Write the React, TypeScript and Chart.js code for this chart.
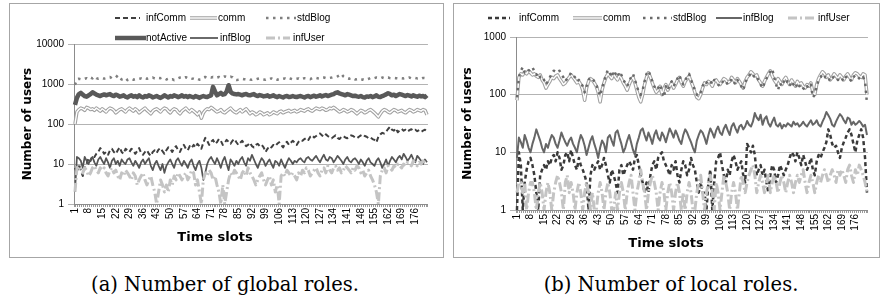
import React, { useEffect, useRef } from "react";
import { Chart, registerables } from "chart.js";
Chart.register(...registerables);

// ---------- categories & tick labels ----------
const timeSlots: string[] = Array.from({ length: 182 }, (_, i) => String(i + 1));
const shownTicks = ["1","8","15","22","29","36","43","50","57","64","71","78","85","92","99","106","113","120","127","134","141","148","155","162","169","176"];
const yTicksA = [1, 10, 100, 1000, 10000];
const yTicksB = [1, 10, 100, 1000];

// ---------- (a) global roles ----------
const globalInfComm = [
  8,6,10,7,5,8,10,14,12,16,15,18,20,25,
  22,18,20,17,22,24,20,18,22,26,20,18,24,22,
  20,24,22,18,21,25,19,17,20,22,18,16,20,22,
  19,23,25,21,18,22,26,24,20,25,28,22,20,26,
  30,24,22,28,25,30,26,32,28,24,34,45,38,30,
  36,40,32,35,42,38,30,34,40,36,32,38,42,35,
  30,34,38,32,28,30,34,28,26,30,32,28,30,26,
  20,24,28,26,30,28,32,35,30,26,32,36,30,34,
  38,34,30,36,40,38,42,45,40,48,52,46,50,55,
  58,52,48,55,50,46,44,48,52,45,42,48,50,46,
  44,48,52,50,46,44,48,52,55,50,48,44,46,42,
  40,35,48,55,60,58,65,75,85,72,68,78,62,70,
  75,68,72,65,70,74,68,72,66,70,64,68,72,65
];
const globalComm = [
  100,200,230,250,240,220,260,250,230,240,220,250,230,210,
  240,220,200,230,250,240,220,190,210,230,240,220,200,230,
  250,230,210,240,220,190,210,230,250,220,200,180,210,230,
  240,220,200,230,250,240,210,190,220,240,230,200,180,210,
  230,250,220,200,230,210,190,170,200,140,190,220,240,230,
  260,240,220,200,210,230,200,190,210,230,250,220,200,190,
  210,230,200,220,240,210,180,200,190,170,180,200,190,170,
  180,190,170,180,200,190,180,200,210,190,200,210,220,200,
  210,220,200,210,230,220,210,230,240,220,210,230,250,240,
  230,250,240,220,230,250,240,260,240,220,200,210,230,220,
  200,210,230,220,200,180,200,220,210,190,200,220,230,210,
  190,170,150,180,210,230,220,200,190,210,230,220,200,210,
  220,200,190,210,230,220,200,210,230,220,210,230,220,170
];
const globalStdBlog = [
  950,1300,1350,1320,1380,1350,1400,1330,1450,1380,1550,1400,1350,1380,
  1420,1360,1400,1450,1500,1380,1420,1450,1650,1400,1300,1350,1420,1250,
  1300,1350,1280,1320,1300,1350,1380,1320,1400,1350,1420,1400,1450,1380,
  1350,1420,1400,1450,1380,1300,1350,1280,1320,1250,1300,1380,1450,1500,
  1420,1480,1400,1450,1380,1350,1300,1350,1280,1300,1450,1500,1420,1480,
  1450,1500,1420,1450,1500,1420,1480,1550,1500,1450,1520,1480,1300,1250,
  1280,1300,1350,1320,1300,1350,1300,1280,1320,1300,1350,1380,1320,1300,
  1280,1350,1320,1380,1300,1350,1280,1320,1300,1350,1380,1320,1400,1350,
  1300,1320,1350,1380,1300,1350,1400,1380,1350,1320,1400,1450,1420,1380,
  1350,1420,1450,1400,1380,1420,1450,1500,1480,1550,1650,1800,1550,1450,
  1380,1350,1420,1380,1300,1320,1350,1280,1300,1250,1300,1350,1420,1450,
  1400,1450,1420,1380,1450,1400,1420,1450,1400,1380,1420,1400,1380,1420,
  1400,1380,1420,1400,1450,1380,1400,1420,1380,1400,1350,1420,1400,1380
];
const globalNotActive = [
  300,450,560,600,540,500,480,520,560,620,580,540,520,500,
  530,550,520,540,560,520,500,540,520,480,500,520,480,460,
  500,520,480,500,470,520,480,460,500,480,520,500,460,480,
  500,470,450,480,520,490,460,500,480,520,500,470,490,520,
  480,500,470,500,480,460,500,480,450,480,500,480,470,500,
  520,850,650,520,560,600,540,560,650,930,640,580,560,550,
  560,540,520,550,560,530,520,540,560,520,500,530,510,490,
  500,520,480,500,520,490,470,500,480,460,490,500,470,480,
  500,480,470,490,500,480,460,490,500,470,490,510,480,500,
  520,490,510,530,500,520,540,560,600,620,580,560,540,520,
  560,540,520,500,510,490,480,500,470,460,490,480,500,470,
  490,520,480,470,500,520,550,590,560,520,540,500,530,560,
  540,520,500,530,510,490,520,500,480,510,490,500,470,520
];
const globalInfBlog = [
  2,15,14,12,8,15,12,10,13,15,11,9,13,15,
  12,10,14,11,8,12,14,10,12,9,13,11,10,13,
  14,11,9,12,10,8,11,13,10,12,14,9,7,10,
  12,9,7,10,6,9,11,13,10,8,12,14,11,9,
  12,10,8,11,13,9,7,10,12,8,4,6,10,13,
  15,12,10,14,11,8,12,15,10,7,13,11,9,12,
  10,13,15,11,9,14,12,17,13,10,8,11,14,12,
  9,11,13,10,8,12,11,9,13,10,8,11,14,12,
  10,12,11,13,14,12,11,14,15,13,12,14,16,13,
  11,14,17,13,12,15,14,11,13,16,14,12,10,13,
  15,12,11,13,14,12,10,13,11,9,12,14,11,10,
  9,12,14,11,8,10,13,9,12,15,13,11,14,16,
  13,18,15,12,14,17,13,11,16,14,12,10,13,11
];
const globalInfUser = [
  2,8,9,7,6,8,7,5,6,8,9,7,6,8,
  7,8,6,5,7,8,6,7,5,4,6,5,7,6,
  5,4,6,5,3,4,5,6,4,3,4,5,3,2,
  1,2,4,3,2,3,2,4,3,5,4,6,5,4,
  5,6,4,5,7,6,3,4,2,1,4,6,5,7,
  6,4,5,3,2,1,3,1,2,4,6,5,7,6,
  5,4,6,7,5,8,6,5,4,3,4,5,6,4,
  3,4,5,3,4,2,3,1,5,6,5,7,6,5,
  6,5,4,6,5,7,6,8,7,5,6,7,8,6,
  5,7,8,6,9,7,6,8,9,7,8,6,7,9,
  8,7,6,8,7,9,8,6,7,5,6,7,5,4,
  3,2,1,5,7,8,6,9,8,7,9,8,10,9,
  8,10,9,11,10,9,12,10,9,11,10,12,11,10
];

// ---------- (b) local roles ----------
const localInfComm = [
  1,10,6,1,3,5,7,8,6,4,2,1,4,5,
  6,5,7,6,8,9,7,10,8,5,6,9,10,7,
  11,8,6,5,8,6,5,4,3,1,4,6,5,6,
  7,5,6,8,6,4,3,5,4,3,2,5,6,4,
  5,6,7,6,5,8,9,6,4,3,2,3,2,4,
  6,7,5,8,9,10,7,6,5,4,6,5,7,4,
  3,5,7,6,4,5,8,6,5,3,2,3,2,2,
  1,3,5,1,3,7,8,10,6,4,3,5,4,7,
  9,7,5,6,7,4,3,14,12,10,13,9,4,5,
  6,4,5,3,2,4,6,5,3,4,6,5,4,5,
  6,8,10,9,7,10,8,6,9,7,5,6,8,5,
  4,7,9,8,10,12,15,25,20,14,12,13,10,8,
  12,15,18,22,25,20,14,10,16,20,25,18,8,2
];
const localComm = [
  80,200,230,220,250,230,260,240,220,230,210,200,220,180,
  160,130,150,170,200,190,210,220,190,170,150,160,180,200,
  220,200,180,160,170,150,120,80,130,170,190,180,160,140,
  110,75,120,160,200,230,210,190,230,200,180,220,190,160,
  140,120,150,180,200,160,120,90,75,100,150,200,240,200,
  160,130,110,120,140,100,130,150,120,140,160,130,150,180,
  200,160,140,170,190,210,170,140,110,90,85,100,130,160,
  150,170,160,140,170,180,160,150,170,190,180,160,170,200,
  180,160,190,170,150,130,170,200,220,250,230,210,220,180,
  160,140,170,200,230,260,210,180,160,190,170,150,180,200,
  170,150,180,160,140,170,150,160,140,130,150,140,160,110,
  100,150,190,220,250,230,200,220,180,200,230,210,190,220,
  200,180,210,230,200,180,220,240,230,210,200,230,220,100
];
const localStdBlog = [
  90,200,260,300,240,230,260,280,300,250,220,240,200,210,
  180,150,170,200,230,260,250,240,260,220,200,170,190,210,
  240,220,200,170,180,160,140,110,140,180,200,190,170,150,
  120,95,130,170,220,270,240,200,260,230,200,250,220,180,
  160,140,170,200,230,180,140,110,100,120,170,230,260,210,
  170,140,120,130,150,110,90,140,120,150,170,140,160,190,
  220,170,150,180,200,230,180,150,120,100,95,110,140,170,
  160,180,170,150,180,170,150,140,160,180,170,150,160,190,
  170,150,180,160,140,120,160,190,210,240,220,200,210,170,
  150,130,160,190,220,250,280,200,150,120,160,140,170,190,
  160,140,170,150,130,160,140,150,130,120,140,130,150,90,
  100,140,180,200,230,210,190,200,170,190,210,200,180,200,
  190,170,200,210,190,170,200,220,210,190,180,200,170,70
];
const localInfBlog = [
  8,18,15,12,20,16,12,10,14,18,25,20,16,12,
  10,14,12,16,20,18,14,12,16,22,18,15,13,16,
  18,14,12,10,15,20,17,13,9,12,16,19,14,11,
  8,12,16,14,10,18,20,16,13,22,24,18,14,10,
  12,16,20,15,11,9,14,18,24,26,20,16,22,18,
  14,20,24,18,16,22,19,15,20,26,22,18,24,20,
  16,14,20,25,22,18,15,12,10,16,20,24,22,18,
  14,20,26,22,18,24,28,22,20,26,30,24,20,28,
  32,26,22,28,30,25,28,35,30,28,34,48,40,36,
  45,30,38,42,32,28,34,40,30,28,32,26,30,28,
  32,30,28,34,30,32,28,30,34,30,28,32,36,30,
  32,36,30,28,34,40,50,44,38,30,28,34,40,46,
  42,36,32,40,38,30,34,30,32,35,32,28,30,20
];
const localInfUser = [
  2,3,3,2,3,1,2,3,3,2,1,2,3,2,
  1,2,3,2,1,2,3,4,3,2,1,3,4,2,
  3,2,1,2,3,2,1,2,3,2,1,2,1,1,
  2,3,2,1,2,3,2,1,1,2,1,2,3,2,
  1,2,3,4,2,1,2,3,5,3,2,1,2,3,
  4,3,2,1,2,3,2,1,2,3,2,1,2,3,
  2,1,2,1,2,3,2,1,1,2,3,4,2,1,
  2,3,4,2,1,3,2,1,2,4,3,2,1,2,
  3,2,1,2,4,3,2,3,4,5,6,4,2,3,
  4,3,2,3,4,2,3,4,3,2,3,4,3,2,
  3,4,3,2,3,4,3,4,5,3,2,3,4,3,
  2,3,4,3,4,5,4,3,4,5,4,3,5,4,
  5,4,3,5,6,4,3,5,4,6,5,4,3,2
];

// ---------- styles ----------
type St = { color: string; width: number; dash?: number[]; inner?: string; innerWidth?: number; dot?: boolean };
const ST: Record<string, St> = {
  infCommA: { color: "#404040", width: 2, dash: [5, 3] },
  infCommB: { color: "#3a3a3a", width: 2.5, dash: [4, 3] },
  comm: { color: "#a0a0a0", width: 3.5, inner: "#ffffff", innerWidth: 1.4 },
  stdBlogA: { color: "#7f7f7f", width: 2.5, dash: [2.5, 4.5] },
  stdBlogB: { color: "#6a6a6a", width: 2.5, dash: [2.5, 4.5] },
  notActive: { color: "#595959", width: 4.5 },
  infBlogA: { color: "#555555", width: 1.75 },
  infBlogB: { color: "#666666", width: 2 },
  infUser: { color: "#c4c4c4", width: 3, dash: [9, 3, 2, 3] },
};

function ds(data: number[], st: St, color?: string, width?: number) {
  return {
    data,
    borderColor: color || st.color,
    borderWidth: width || st.width,
    borderDash: color ? [] : st.dash || [],
    pointRadius: 0,
    pointHoverRadius: 0,
    fill: false,
    tension: 0,
    borderJoinStyle: "round" as const,
  };
}

type LegendItem = { label: string; st: St; x0: number; x1: number; tx: number; y: number };

function drawSample(ctx: CanvasRenderingContext2D, it: LegendItem) {
  ctx.save();
  ctx.lineCap = "butt";
  ctx.beginPath();
  ctx.setLineDash(it.st.dash || []);
  ctx.strokeStyle = it.st.color;
  ctx.lineWidth = it.st.width;
  ctx.moveTo(it.x0, it.y);
  ctx.lineTo(it.x1, it.y);
  ctx.stroke();
  if (it.st.inner) {
    ctx.beginPath();
    ctx.setLineDash([]);
    ctx.strokeStyle = it.st.inner;
    ctx.lineWidth = it.st.innerWidth || 1;
    ctx.moveTo(it.x0, it.y);
    ctx.lineTo(it.x1, it.y);
    ctx.stroke();
  }
  ctx.setLineDash([]);
  ctx.fillStyle = "#000";
  ctx.font = '10px "Liberation Sans", Arial, sans-serif';
  ctx.textAlign = "left";
  ctx.textBaseline = "middle";
  ctx.fillText(it.label, it.tx, it.y + 0.5);
  ctx.restore();
}

type PanelProps = {
  left: number;
  datasets: any[];
  yTicks: number[];
  yMax: number;
  padding: { top: number; right: number };
  yWidth: number;
  xHeight: number;
  legend: LegendItem[];
  xTitle: { x: number; y: number };
};

function Panel(p: PanelProps) {
  const ref = useRef<HTMLCanvasElement | null>(null);
  useEffect(() => {
    if (!ref.current) return;
    const extras = {
      id: "extras",
      afterDraw(chart: any) {
        const ctx = chart.ctx as CanvasRenderingContext2D;
        p.legend.forEach((it) => drawSample(ctx, it));
        ctx.save();
        ctx.fillStyle = "#000";
        ctx.font = 'bold 13px "DejaVu Sans", Verdana, sans-serif';
        ctx.textAlign = "center";
        ctx.textBaseline = "middle";
        ctx.fillText("Time slots", p.xTitle.x, p.xTitle.y);
        ctx.restore();
      },
    };
    const chart = new Chart(ref.current, {
      type: "line",
      data: { labels: timeSlots, datasets: p.datasets },
      plugins: [extras],
      options: {
        responsive: false,
        animation: false,
        events: [],
        layout: { padding: { left: 0, right: p.padding.right, top: p.padding.top, bottom: 0 } },
        plugins: { legend: { display: false }, tooltip: { enabled: false }, title: { display: false } },
        scales: {
          x: {
            type: "category",
            offset: true,
            grid: { display: true, drawOnChartArea: false, drawTicks: true, tickLength: 3, color: "#9a9a9a", offset: true },
            border: { display: true, color: "#8c8c8c" },
            ticks: {
              autoSkip: false,
              maxRotation: 90,
              minRotation: 90,
              padding: 1,
              color: "#000",
              font: { family: '"Liberation Sans", Arial, sans-serif', size: 10 },
              callback: (_v: any, i: number) => (shownTicks.includes(timeSlots[i]) ? timeSlots[i] : ""),
            },
            afterFit: (s: any) => {
              s.height = p.xHeight;
            },
          },
          y: {
            type: "logarithmic",
            min: 1,
            max: p.yMax,
            afterBuildTicks: (s: any) => {
              s.ticks = p.yTicks.map((v) => ({ value: v }));
            },
            grid: { color: "#b3b3b3", tickLength: 6, drawTicks: true },
            border: { display: true, color: "#8c8c8c" },
            ticks: {
              padding: 4,
              color: "#000",
              font: { family: '"Liberation Sans", Arial, sans-serif', size: 10 },
              callback: (v: any) => String(v),
            },
            title: {
              display: true,
              text: "Number of users",
              color: "#000",
              font: { family: '"DejaVu Sans", Verdana, sans-serif', size: 12, weight: "bold" },
              padding: { top: 21, bottom: 0 },
            },
            afterFit: (s: any) => {
              s.width = p.yWidth;
            },
          },
        },
      } as any,
    });
    return () => chart.destroy();
  }, []);
  return (
    <canvas
      ref={ref}
      width={440}
      height={260}
      style={{ position: "absolute", left: p.left, top: 0, width: 440, height: 260 }}
    />
  );
}

export default function App() {
  const dsA = [
    ds(globalInfUser, ST.infUser),
    ds(globalInfBlog, ST.infBlogA),
    ds(globalNotActive, ST.notActive),
    ds(globalStdBlog, ST.stdBlogA),
    ds(globalComm, ST.comm, "#ffffff", 1.4),
    ds(globalComm, ST.comm),
    ds(globalInfComm, ST.infCommA),
  ];
  const dsB = [
    ds(localInfUser, ST.infUser),
    ds(localInfBlog, ST.infBlogB),
    ds(localStdBlog, ST.stdBlogB),
    ds(localComm, ST.comm, "#ffffff", 1.4),
    ds(localComm, ST.comm),
    ds(localInfComm, ST.infCommB),
  ];
  const legendA: LegendItem[] = [
    { label: "infComm", st: ST.infCommA, x0: 115, x1: 140, tx: 146, y: 18 },
    { label: "comm", st: ST.comm, x0: 190, x1: 217, tx: 218, y: 18 },
    { label: "stdBlog", st: ST.stdBlogA, x0: 266, x1: 296, tx: 297, y: 18 },
    { label: "notActive", st: ST.notActive, x0: 115, x1: 146, tx: 146, y: 38 },
    { label: "infBlog", st: ST.infBlogA, x0: 190, x1: 218, tx: 220, y: 38 },
    { label: "infUser", st: ST.infUser, x0: 266, x1: 290, tx: 293, y: 38 },
  ];
  const legendB: LegendItem[] = [
    { label: "infComm", st: ST.infCommB, x0: 48, x1: 70, tx: 79, y: 18 },
    { label: "comm", st: ST.comm, x0: 133, x1: 162, tx: 163, y: 18 },
    { label: "stdBlog", st: ST.stdBlogB, x0: 203, x1: 232, tx: 233, y: 18 },
    { label: "infBlog", st: ST.infBlogB, x0: 276, x1: 302, tx: 303, y: 18 },
    { label: "infUser", st: ST.infUser, x0: 348, x1: 376, tx: 378, y: 18 },
  ];
  const caption: React.CSSProperties = {
    position: "absolute",
    top: 273,
    width: 440,
    textAlign: "center",
    fontFamily: '"DejaVu Serif", serif',
    fontSize: 19.5,
    color: "#000",
    whiteSpace: "nowrap",
  };
  return (
    <div style={{ position: "absolute", left: 0, top: 0, width: 880, height: 299, background: "#fff", overflow: "hidden" }}>
      <div style={{ position: "absolute", left: 9, top: 3, width: 435, height: 255, border: "1px solid #a6a6a6", boxSizing: "border-box" }} />
      <div style={{ position: "absolute", left: 453, top: 3, width: 427, height: 255, border: "1px solid #a6a6a6", boxSizing: "border-box" }} />
      <Panel
        left={0}
        datasets={dsA}
        yTicks={yTicksA}
        yMax={10000}
        padding={{ top: 44, right: 10 }}
        yWidth={74}
        xHeight={56}
        legend={legendA}
        xTitle={{ x: 215, y: 238 }}
      />
      <Panel
        left={440}
        datasets={dsB}
        yTicks={yTicksB}
        yMax={1000}
        padding={{ top: 37, right: 5 }}
        yWidth={76}
        xHeight={50}
        legend={legendB}
        xTitle={{ x: 226, y: 244 }}
      />
      <div style={{ ...caption, left: 5 }}>(a) Number of global roles.</div>
      <div style={{ ...caption, left: 451 }}>(b) Number of local roles.</div>
    </div>
  );
}
